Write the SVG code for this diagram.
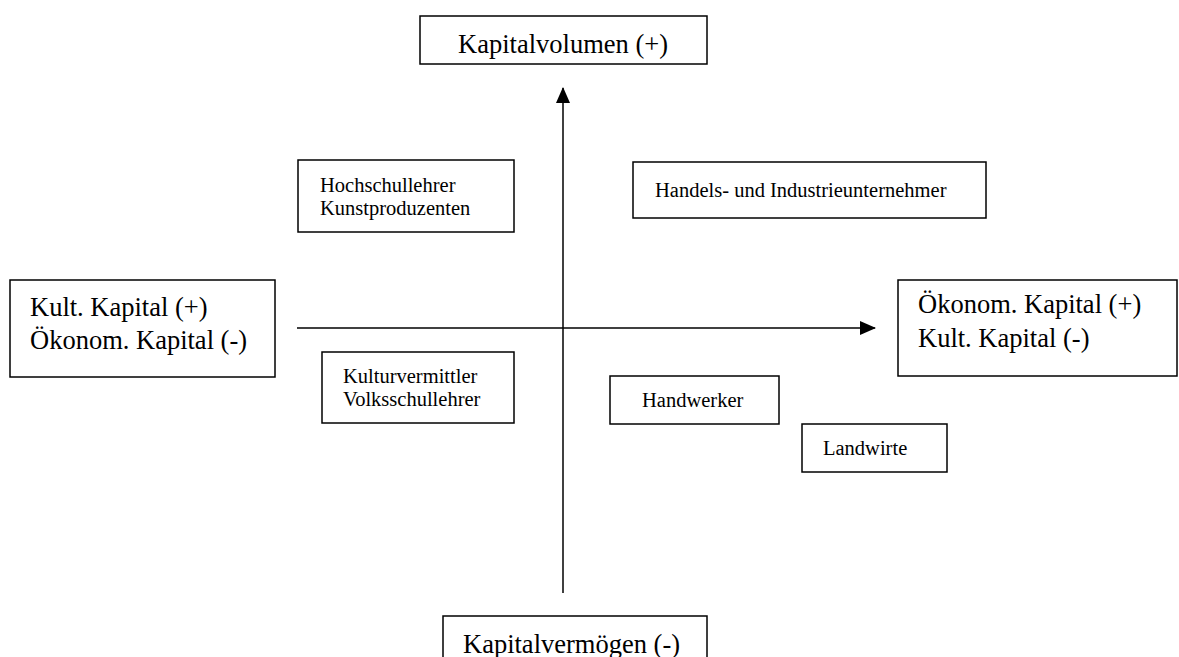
<svg xmlns="http://www.w3.org/2000/svg" width="1179" height="657" viewBox="0 0 1179 657">
<style>
.box{fill:#fff;stroke:#000;stroke-width:1.5}
.big{font-family:"Liberation Serif","Times New Roman",serif;font-size:26.5px;fill:#000}
.small{font-family:"Liberation Serif","Times New Roman",serif;font-size:20.5px;fill:#000}
.axis{stroke:#000;stroke-width:1.5;fill:none}
</style>
<defs>
<marker id="ah" viewBox="0 0 16 14" refX="15" refY="7" markerWidth="16" markerHeight="14" markerUnits="userSpaceOnUse" orient="auto">
<path d="M0,0 L16,7 L0,14 Z" fill="#000"/>
</marker>
</defs>
<rect width="1179" height="657" fill="#fff"/>
<g id="connectors">
<line class="axis" x1="563" y1="593" x2="563" y2="88" marker-end="url(#ah)"/>
<line class="axis" x1="297" y1="328" x2="875" y2="328" marker-end="url(#ah)"/>
</g>
<g id="top">
<rect class="box" x="420" y="16" width="287" height="48"/>
<text class="big" x="563" y="53" text-anchor="middle">Kapitalvolumen (+)</text>
</g>
<g id="bottom">
<rect class="box" x="443" y="616" width="264" height="50"/>
<text class="big" x="463" y="653">Kapitalvermögen (-)</text>
</g>
<g id="left">
<rect class="box" x="10" y="280" width="265" height="97"/>
<text class="big" x="30" y="316">Kult. Kapital (+)</text>
<text class="big" x="30" y="349">Ökonom. Kapital (-)</text>
</g>
<g id="right">
<rect class="box" x="898" y="280" width="279" height="96"/>
<text class="big" x="918" y="313">Ökonom. Kapital (+)</text>
<text class="big" x="918" y="347">Kult. Kapital (-)</text>
</g>
<g id="hochschullehrer">
<rect class="box" x="298" y="160" width="216" height="72"/>
<text class="small" x="320" y="192">Hochschullehrer</text>
<text class="small" x="320" y="215">Kunstproduzenten</text>
</g>
<g id="handels">
<rect class="box" x="633" y="162" width="353" height="56"/>
<text class="small" x="655" y="197">Handels- und Industrieunternehmer</text>
</g>
<g id="kulturvermittler">
<rect class="box" x="322" y="352" width="192" height="71"/>
<text class="small" x="343" y="383">Kulturvermittler</text>
<text class="small" x="343" y="406">Volksschullehrer</text>
</g>
<g id="handwerker">
<rect class="box" x="610" y="376" width="169" height="48"/>
<text class="small" x="642" y="407">Handwerker</text>
</g>
<g id="landwirte">
<rect class="box" x="802" y="424" width="145" height="48"/>
<text class="small" x="823" y="455">Landwirte</text>
</g>
</svg>
